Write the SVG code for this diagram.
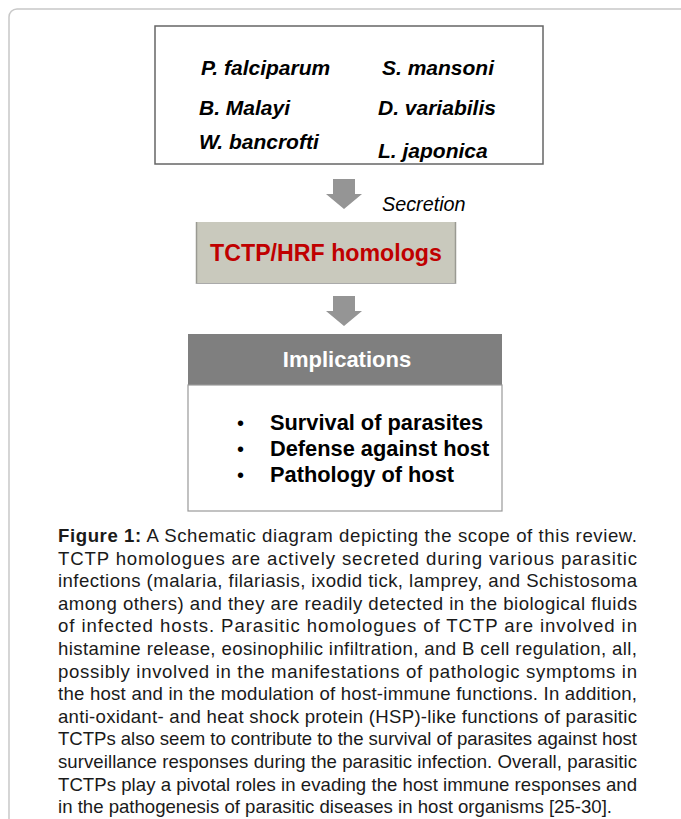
<svg xmlns="http://www.w3.org/2000/svg" width="681" height="819" viewBox="0 0 681 819">
<style>
.sp{font-family:"Liberation Sans",Arial,sans-serif;font-weight:bold;font-style:italic;font-size:21px;fill:#000}
.cap{font-family:"Liberation Sans",Arial,sans-serif;font-size:18.6px;fill:#1a1a1a}
.bul{font-family:"Liberation Sans",Arial,sans-serif;font-weight:bold;font-size:21.8px;fill:#000}
.dot{font-family:"Liberation Sans",Arial,sans-serif;font-size:20px;fill:#000}
.arrow{fill:#959595}
</style>
<rect x="0" y="0" width="681" height="819" fill="#fff"/>
<rect x="9" y="9" width="720" height="840" rx="8" fill="none" stroke="#c8c8c8" stroke-width="1.5"/>
<g id="species">
<rect x="155" y="26" width="388" height="138" fill="#fff" stroke="#666" stroke-width="1.5"/>
<text class="sp" x="201" y="75">P. falciparum</text>
<text class="sp" x="382" y="75">S. mansoni</text>
<text class="sp" x="199" y="115">B. Malayi</text>
<text class="sp" x="378" y="115">D. variabilis</text>
<text class="sp" x="199" y="149">W. bancrofti</text>
<text class="sp" x="378" y="158">L. japonica</text>
</g>
<g id="connectors">
<polygon class="arrow" points="333,179 355,179 355,194 362,194 344,209 326,194 333,194"/>
<polygon class="arrow" points="333,296 355,296 355,311 362,311 344,326 326,311 333,311"/>
<text x="382" y="211" style="font-family:'Liberation Sans',Arial,sans-serif;font-style:italic;font-size:19.8px;fill:#000">Secretion</text>
</g>
<g id="tctp">
<rect x="196" y="222" width="260" height="62" fill="#c9c9bd"/>
<line x1="196.5" y1="222" x2="196.5" y2="284" stroke="#9a9a92" stroke-width="1.5"/>
<line x1="455.5" y1="222" x2="455.5" y2="284" stroke="#9a9a92" stroke-width="1.5"/>
<line x1="196" y1="283.5" x2="456" y2="283.5" stroke="#aaa" stroke-width="1"/>
<text x="326" y="261" text-anchor="middle" style="font-family:'Liberation Sans',Arial,sans-serif;font-weight:bold;font-size:23.2px;fill:#c00000">TCTP/HRF homologs</text>
</g>
<g id="implications">
<rect x="188" y="334" width="314" height="51" fill="#7f7f7f"/>
<text x="347" y="367" text-anchor="middle" style="font-family:'Liberation Sans',Arial,sans-serif;font-weight:bold;font-size:22px;fill:#fff">Implications</text>
<rect x="188" y="385" width="314" height="126" fill="#fff" stroke="#999" stroke-width="1.2"/>
<text class="dot" x="237" y="430">•</text>
<text class="bul" x="270" y="430">Survival of parasites</text>
<text class="dot" x="237" y="456">•</text>
<text class="bul" x="270" y="456">Defense against host</text>
<text class="dot" x="237" y="482">•</text>
<text class="bul" x="270" y="482">Pathology of host</text>
</g>
<g id="caption" class="cap">
<text x="58" y="542" textLength="579" lengthAdjust="spacing"><tspan font-weight="bold">Figure 1:</tspan> A Schematic diagram depicting the scope of this review.</text>
<text x="58" y="564.6" textLength="579" lengthAdjust="spacing">TCTP homologues are actively secreted during various parasitic</text>
<text x="58" y="587.2" textLength="579" lengthAdjust="spacing">infections (malaria, filariasis, ixodid tick, lamprey, and Schistosoma</text>
<text x="58" y="609.8" textLength="579" lengthAdjust="spacing">among others) and they are readily detected in the biological fluids</text>
<text x="58" y="632.4" textLength="579" lengthAdjust="spacing">of infected hosts. Parasitic homologues of TCTP are involved in</text>
<text x="58" y="655" textLength="579" lengthAdjust="spacing">histamine release, eosinophilic infiltration, and B cell regulation, all,</text>
<text x="58" y="677.6" textLength="579" lengthAdjust="spacing">possibly involved in the manifestations of pathologic symptoms in</text>
<text x="58" y="700.2" textLength="579" lengthAdjust="spacing">the host and in the modulation of host-immune functions. In addition,</text>
<text x="58" y="722.8" textLength="579" lengthAdjust="spacing">anti-oxidant- and heat shock protein (HSP)-like functions of parasitic</text>
<text x="58" y="745.4" textLength="579" lengthAdjust="spacing">TCTPs also seem to contribute to the survival of parasites against host</text>
<text x="58" y="768" textLength="579" lengthAdjust="spacing">surveillance responses during the parasitic infection. Overall, parasitic</text>
<text x="58" y="790.6" textLength="579" lengthAdjust="spacing">TCTPs play a pivotal roles in evading the host immune responses and</text>
<text x="58" y="813.2">in the pathogenesis of parasitic diseases in host organisms [25-30].</text>
</g>
</svg>
